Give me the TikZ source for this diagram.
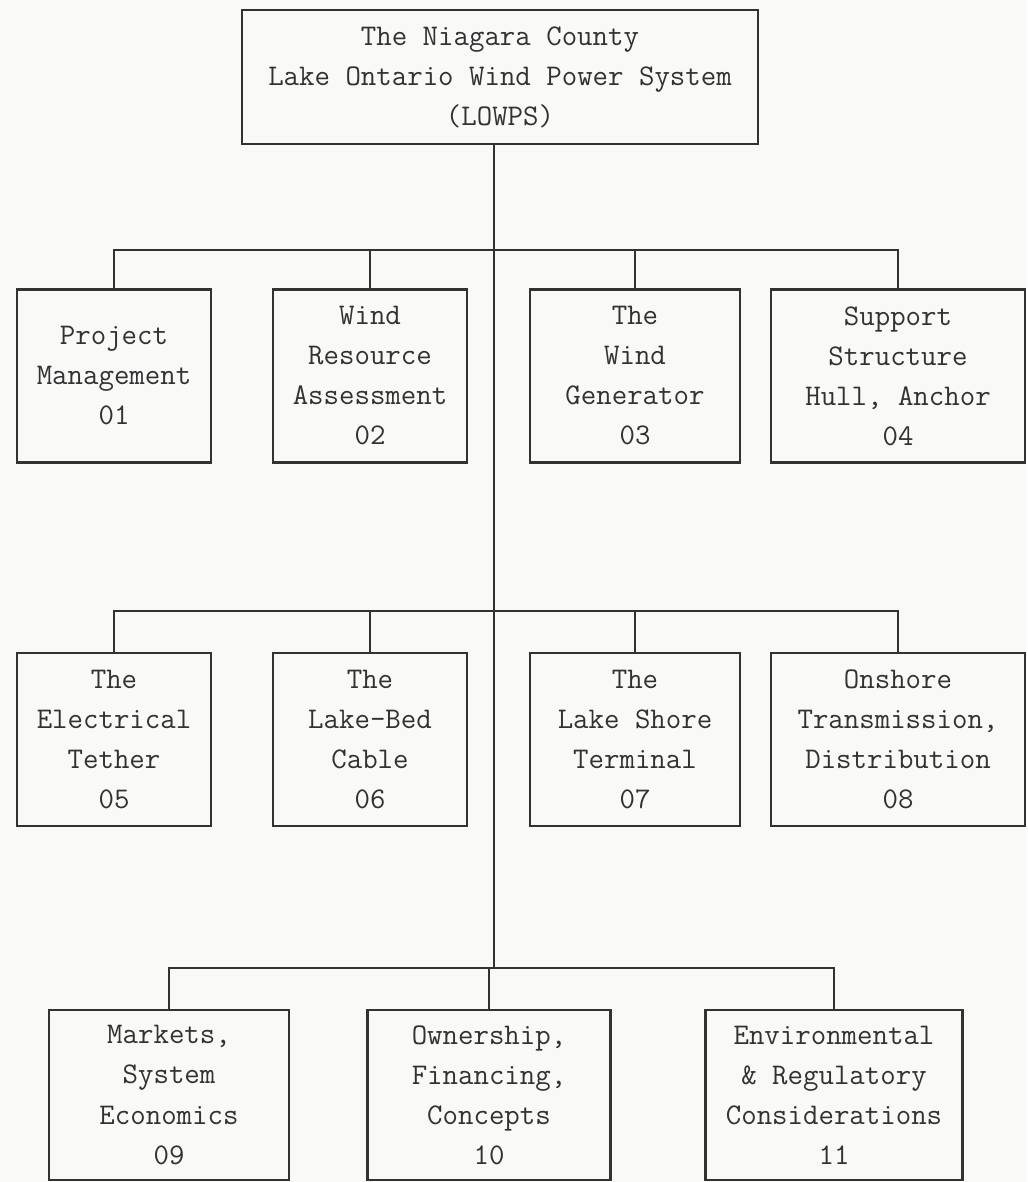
\documentclass[tikz,border=0pt]{standalone}
\usepackage{fontspec}
\usetikzlibrary{positioning,calc}
\definecolor{paper}{RGB}{249,249,248}
\definecolor{ink}{RGB}{50,50,50}

\begin{document}
\begin{tikzpicture}[
    x=0.5pt, y=-0.5pt,
    block/.style={rectangle, draw=ink, line width=1.2pt, text=ink, align=center, inner sep=0pt, minimum height=86.5pt, font=\ttfamily\fontsize{15}{20}\selectfont},
    link/.style={draw=ink, line width=1pt}
]
    \fill[paper] (0,0) rectangle (1027,1182);
    \useasboundingbox (0,0) rectangle (1027,1182);

    \node[block, minimum width=258pt, minimum height=67pt] (lowps) at (500,77) {The Niagara County\\Lake Ontario Wind Power System\\(LOWPS)};

    % first row
    \node[block, minimum width=97pt] (pm) at (114,376) {Project\\Management\\01};
    \node[block, minimum width=97pt] (wra) at (370,376) {Wind\\Resource\\Assessment\\02};
    \node[block, minimum width=105pt] (gen) at (635,376) {The\\Wind\\Generator\\03};
    \node[block, minimum width=127pt] (sup) at (898,376) {Support\\Structure\\Hull, Anchor\\04};

    % second row
    \node[block, minimum width=97pt, below=94pt of pm] (teth) {The\\Electrical\\Tether\\05};
    \node[block, minimum width=97pt, below=94pt of wra] (cable) {The\\Lake-Bed\\Cable\\06};
    \node[block, minimum width=105pt, below=94pt of gen] (term) {The\\Lake Shore\\Terminal\\07};
    \node[block, minimum width=127pt, below=94pt of sup] (trans) {Onshore\\Transmission,\\Distribution\\08};

    % third row
    \node[block, minimum width=120pt, minimum height=85pt] (mkt) at (169,1095) {Markets,\\System\\Economics\\09};
    \node[block, minimum width=121.5pt, minimum height=85pt] (own) at (489,1095) {Ownership,\\Financing,\\Concepts\\10};
    \node[block, minimum width=128.5pt, minimum height=85pt] (env) at (834,1095) {Environmental\\\& Regulatory\\Considerations\\11};

    \coordinate (bar1) at (494,250);
    \coordinate (bar2) at (494,611);
    \coordinate (trunk) at (494,968);

    \draw[link] (lowps.south -| trunk) -- (trunk);

    \draw[link] (pm.north) |- (sup.north |- bar1) -- (sup.north);
    \draw[link] (wra.north) -- (wra.north |- bar1);
    \draw[link] (gen.north) -- (gen.north |- bar1);

    \draw[link] (teth.north) |- (trans.north |- bar2) -- (trans.north);
    \draw[link] (cable.north) -- (cable.north |- bar2);
    \draw[link] (term.north) -- (term.north |- bar2);

    \draw[link] (mkt.north) |- (env.north |- trunk) -- (env.north);
    \draw[link] (own.north) -- (own.north |- trunk);
\end{tikzpicture}
\end{document}
